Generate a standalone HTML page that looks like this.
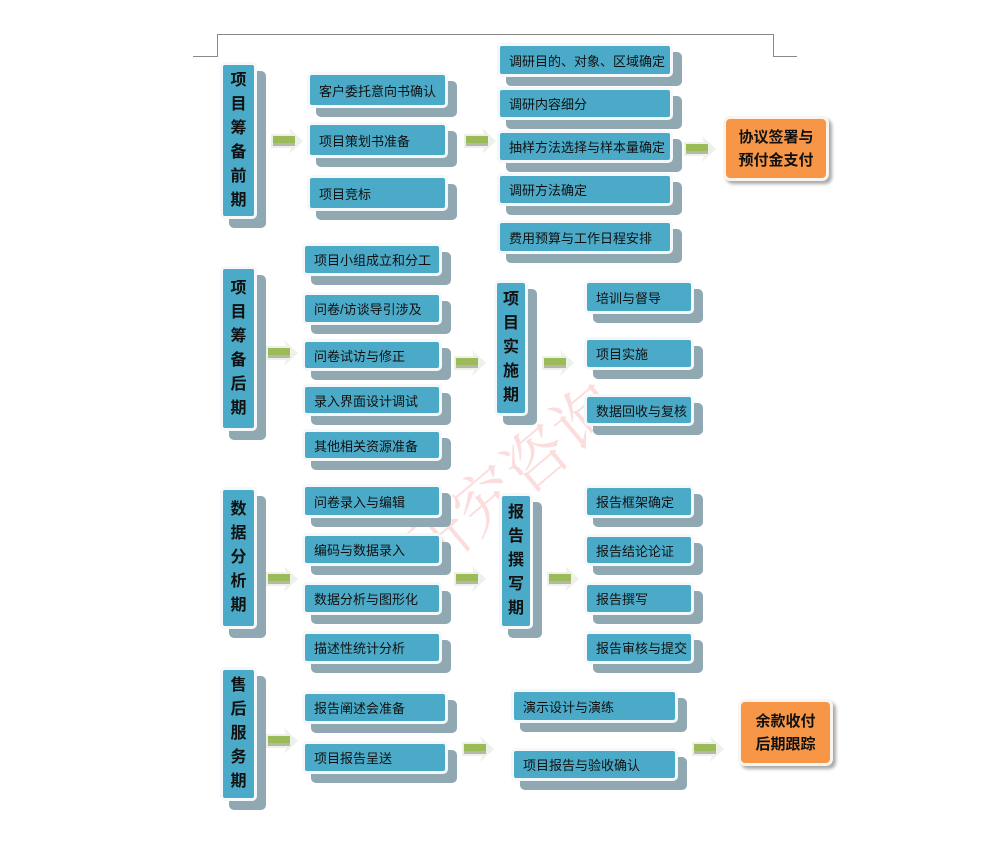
<!DOCTYPE html>
<html><head><meta charset="utf-8"><style>
body{margin:0;background:#fff;}
#c{position:relative;width:1000px;height:860px;overflow:hidden;font-family:"Liberation Sans","Noto Sans CJK SC",sans-serif;}
.b{position:absolute;box-sizing:border-box;background:#4aaac8;border:3px solid #f4f8fa;border-radius:5px;box-shadow:9px 9px 0 #8fa8b1;color:#111;font-size:13px;display:flex;align-items:center;padding-left:9px;white-space:nowrap;}
.v{position:absolute;box-sizing:border-box;background:#4aaac8;border:3px solid #f4f8fa;border-radius:5px;box-shadow:9px 9px 0 #8fa8b1;color:#111;font-size:16px;font-weight:bold;display:flex;align-items:center;justify-content:center;text-align:center;line-height:24px;}
.o{position:absolute;box-sizing:border-box;background:#f79646;border:3px solid #fbf3ee;border-radius:7px;box-shadow:3px 3px 3px #aaa;color:#111;font-size:15px;font-weight:bold;display:flex;align-items:center;justify-content:center;text-align:center;line-height:23px;}
.a{position:absolute;width:32px;height:26px;}
.l{position:absolute;background:#888;}
</style></head><body><div id="c">
<div class="l" style="left:217px;top:34px;width:557px;height:1px"></div>
<div class="l" style="left:217px;top:34px;width:1px;height:23px"></div>
<div class="l" style="left:193px;top:56px;width:25px;height:1px"></div>
<div class="l" style="left:773px;top:34px;width:1px;height:23px"></div>
<div class="l" style="left:773px;top:56px;width:24px;height:1px"></div>

<div style="position:absolute;left:380px;top:430px;font-size:64px;color:rgba(240,120,120,0.25);transform:rotate(-40deg);font-family:'Noto Serif CJK SC',serif;white-space:nowrap">研究咨询</div>

<svg width="0" height="0" style="position:absolute"><defs><g id="ar"><polygon points="0,6 20,6 18,0 32,13 18,26 20,20 0,20" fill="#eef1ea"/><rect x="2" y="8" width="22" height="7" fill="#9bbb59"/><rect x="2" y="15" width="22" height="3" fill="#b5b8a8"/></g></defs></svg>

<!-- section 1 -->
<div class="v" style="left:220px;top:62px;width:37px;height:157px">项<br>目<br>筹<br>备<br>前<br>期</div>
<svg class="a" style="left:271px;top:128px"><use href="#ar"/></svg>
<div class="b" style="left:307px;top:72px;width:141px;height:36px">客户委托意向书确认</div>
<div class="b" style="left:307px;top:122px;width:141px;height:36px">项目策划书准备</div>
<div class="b" style="left:307px;top:175px;width:141px;height:36px">项目竞标</div>
<svg class="a" style="left:464px;top:128px"><use href="#ar"/></svg>
<div class="b" style="left:497px;top:43px;width:176px;height:34px">调研目的、对象、区域确定</div>
<div class="b" style="left:497px;top:87px;width:176px;height:33px">调研内容细分</div>
<div class="b" style="left:497px;top:130px;width:176px;height:33px">抽样方法选择与样本量确定</div>
<div class="b" style="left:497px;top:173px;width:176px;height:33px">调研方法确定</div>
<div class="b" style="left:497px;top:220px;width:176px;height:34px">费用预算与工作日程安排</div>
<svg class="a" style="left:684px;top:136px"><use href="#ar"/></svg>
<div class="o" style="left:723px;top:116px;width:106px;height:65px">协议签署与<br>预付金支付</div>

<!-- section 2 -->
<div class="v" style="left:220px;top:266px;width:37px;height:165px">项<br>目<br>筹<br>备<br>后<br>期</div>
<svg class="a" style="left:266px;top:340px"><use href="#ar"/></svg>
<div class="b" style="left:302px;top:243px;width:140px;height:33px">项目小组成立和分工</div>
<div class="b" style="left:302px;top:292px;width:140px;height:33px">问卷/访谈导引涉及</div>
<div class="b" style="left:302px;top:339px;width:140px;height:32px">问卷试访与修正</div>
<div class="b" style="left:302px;top:384px;width:140px;height:32px">录入界面设计调试</div>
<div class="b" style="left:302px;top:429px;width:140px;height:32px">其他相关资源准备</div>
<svg class="a" style="left:454px;top:350px"><use href="#ar"/></svg>
<div class="v" style="left:494px;top:280px;width:34px;height:136px">项<br>目<br>实<br>施<br>期</div>
<svg class="a" style="left:542px;top:350px"><use href="#ar"/></svg>
<div class="b" style="left:584px;top:280px;width:110px;height:34px">培训与督导</div>
<div class="b" style="left:584px;top:337px;width:110px;height:33px">项目实施</div>
<div class="b" style="left:584px;top:394px;width:110px;height:32px">数据回收与复核</div>

<!-- section 3 -->
<div class="v" style="left:220px;top:487px;width:37px;height:142px">数<br>据<br>分<br>析<br>期</div>
<svg class="a" style="left:266px;top:566px"><use href="#ar"/></svg>
<div class="b" style="left:302px;top:484px;width:140px;height:34px">问卷录入与编辑</div>
<div class="b" style="left:302px;top:533px;width:140px;height:33px">编码与数据录入</div>
<div class="b" style="left:302px;top:582px;width:140px;height:33px">数据分析与图形化</div>
<div class="b" style="left:302px;top:631px;width:140px;height:33px">描述性统计分析</div>
<svg class="a" style="left:454px;top:566px"><use href="#ar"/></svg>
<div class="v" style="left:499px;top:493px;width:34px;height:136px">报<br>告<br>撰<br>写<br>期</div>
<svg class="a" style="left:547px;top:566px"><use href="#ar"/></svg>
<div class="b" style="left:584px;top:485px;width:110px;height:33px">报告框架确定</div>
<div class="b" style="left:584px;top:534px;width:110px;height:32px">报告结论论证</div>
<div class="b" style="left:584px;top:582px;width:110px;height:33px">报告撰写</div>
<div class="b" style="left:584px;top:631px;width:110px;height:33px">报告审核与提交</div>

<!-- section 4 -->
<div class="v" style="left:220px;top:667px;width:37px;height:134px">售<br>后<br>服<br>务<br>期</div>
<svg class="a" style="left:266px;top:728px"><use href="#ar"/></svg>
<div class="b" style="left:302px;top:691px;width:146px;height:33px">报告阐述会准备</div>
<div class="b" style="left:302px;top:741px;width:146px;height:33px">项目报告呈送</div>
<svg class="a" style="left:462px;top:736px"><use href="#ar"/></svg>
<div class="b" style="left:511px;top:689px;width:167px;height:34px">演示设计与演练</div>
<div class="b" style="left:511px;top:748px;width:167px;height:33px">项目报告与验收确认</div>
<svg class="a" style="left:692px;top:736px"><use href="#ar"/></svg>
<div class="o" style="left:738px;top:699px;width:95px;height:67px">余款收付<br>后期跟踪</div>
</div></body></html>
